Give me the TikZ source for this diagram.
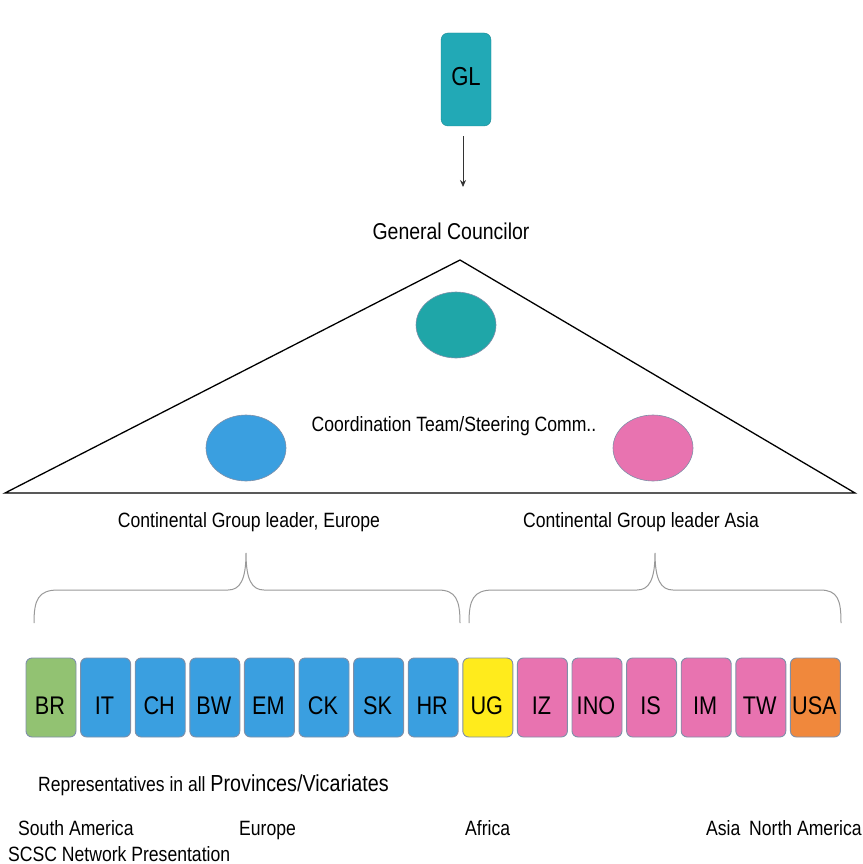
\documentclass[tikz,border=0pt]{standalone}
\usepackage{fontspec}
\setmainfont[FakeStretch=0.85]{Liberation Sans}
\usetikzlibrary{arrows.meta,shapes.geometric}
\definecolor{tealc}{HTML}{22A9B6}
\definecolor{tealell}{HTML}{1FA6A8}
\definecolor{bluec}{HTML}{3A9FE0}
\definecolor{pinkc}{HTML}{E873B0}
\definecolor{greenc}{HTML}{92C272}
\definecolor{yellowc}{HTML}{FFEB1C}
\definecolor{orangec}{HTML}{F0883C}
\definecolor{edgec}{HTML}{7F8FA8}
\begin{document}
\begin{tikzpicture}[x=1pt,y=-1pt,
  lbl/.style={font=\fontsize{20.7}{24}\selectfont, inner sep=0pt, anchor=base},
  prov/.style={draw=edgec, line width=0.9pt, rounded corners=6pt, minimum width=50pt, minimum height=79pt, inner sep=0pt},
  ell/.style={ellipse, draw=edgec, line width=0.6pt, minimum width=80pt, minimum height=66pt, inner sep=0pt},
  brace/.style={draw=gray!80, line width=1pt}
]
\useasboundingbox (0,0) rectangle (862,864);
% GL
\node[draw=tealc!80!black, fill=tealc, rounded corners=7pt, minimum width=50pt, minimum height=93pt, inner sep=0pt] (gl) at (466,79.5) {};
\node[font=\fontsize{26}{30}\selectfont, anchor=base, inner sep=0pt] (gltext) at (466,86) {GL};
\coordinate (arrstart) at (463,136);
\coordinate (arrend) at (463,187);
\draw[gray!40!black, line width=0.8pt, -{Stealth[length=7pt,width=6pt]}] (arrstart) -- (arrend);
\node[lbl, font=\fontsize{22.9}{26}\selectfont] (gc) at (451,239) {General Councilor};
% triangle
\coordinate (apex) at (460,260);
\coordinate (tl) at (5,493);
\coordinate (tr) at (855,493);
\draw[black, line width=1.3pt] (tl) -- (apex) -- (tr) -- cycle;
\node[ell, fill=tealell] (e1) at (456,325) {};
\node[ell, fill=bluec] (e2) at (246,448) {};
\node[ell, fill=pinkc] (e3) at (653,448) {};
\node[lbl] (ct) at (454,431) {Coordination Team/Steering Comm..};
\node[lbl] (cge) at (249,527) {Continental Group leader, Europe};
\node[lbl] (cga) at (641,527) {Continental Group leader Asia};
% braces
\draw[brace] (34,623) .. controls (34,600) and (38,590) .. (58,590) -- (228,590) .. controls (240,590) and (246,580) .. (246,553)
  .. controls (246,580) and (252,590) .. (264,590) -- (438,590) .. controls (456,590) and (460,600) .. (460,623);
\draw[brace] (469,623) .. controls (469,600) and (473,590) .. (493,590) -- (637,590) .. controls (649,590) and (655,580) .. (655,553)
  .. controls (655,580) and (661,590) .. (673,590) -- (820,590) .. controls (838,590) and (841,600) .. (841,623);
% province boxes
\foreach \lab/\col [count=\i from 0] in {BR/greenc,IT/bluec,CH/bluec,BW/bluec,EM/bluec,CK/bluec,SK/bluec,HR/bluec,UG/yellowc,IZ/pinkc,INO/pinkc,IS/pinkc,IM/pinkc,TW/pinkc,USA/orangec}{
  \node[prov, fill=\col] (p\i) at (51+54.6*\i,697.5) {};
  \node[font=\fontsize{25.5}{29}\selectfont, inner sep=0pt, anchor=base] (t\i) at (50+54.6*\i,714) {\lab};
}
\node[anchor=base west, inner sep=0pt] (rep) at (38,791) {\fontsize{20.6}{24}\selectfont Representatives in all \fontsize{23.2}{26}\selectfont Provinces/Vicariates};
\node[lbl, anchor=base west] (sa) at (18,835) {South America};
\node[lbl, anchor=base west] (eu) at (239,835) {Europe};
\node[lbl, anchor=base west] (af) at (465,835) {Africa};
\node[lbl, anchor=base west] (as) at (706,835) {Asia};
\node[lbl, anchor=base west] (na) at (749,835) {North America};
\node[lbl, anchor=base west] (scsc) at (8,861) {SCSC Network Presentation};
\end{tikzpicture}
\end{document}
